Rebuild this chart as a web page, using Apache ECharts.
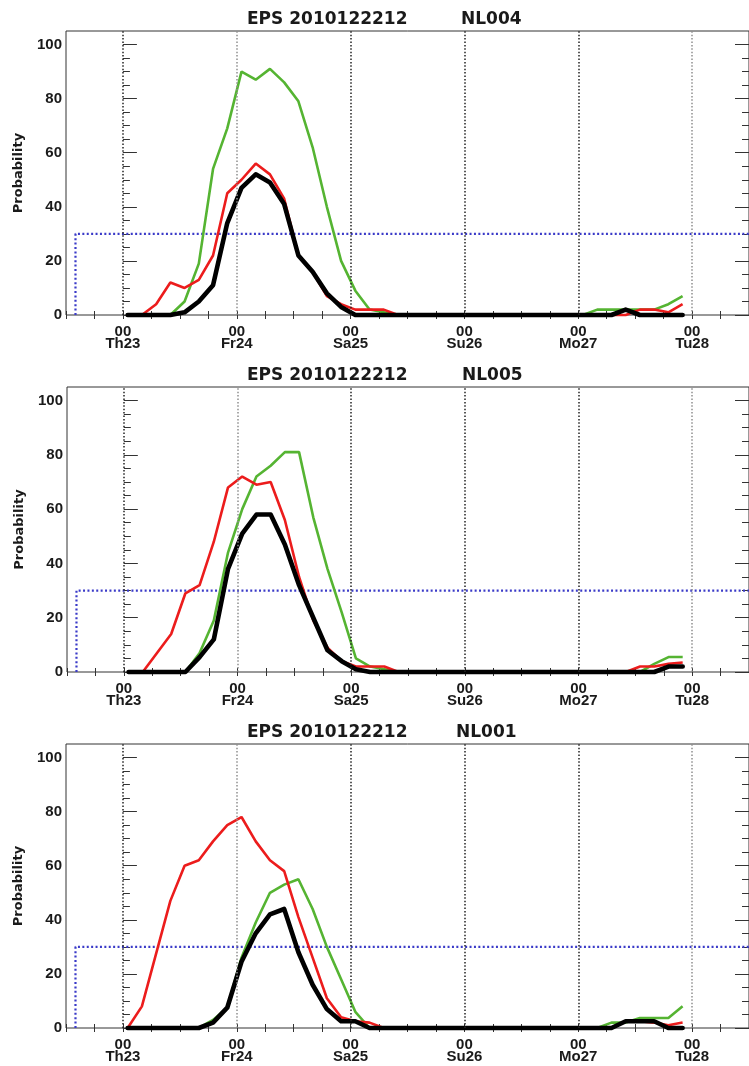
<!DOCTYPE html>
<html>
<head>
<meta charset="utf-8">
<script src="https://cdn.jsdelivr.net/npm/echarts@6/dist/echarts.min.js"></script>
<style>
  html, body { margin: 0; padding: 0; background: #fff; }
</style>
</head>
<body>
<div id="main" style="width: 749px; height: 1066px;"></div>
<script type="text/javascript">
// forecast hours after Th23 00 UTC
var hours = [1, 4, 7, 10, 13, 16, 19, 22, 25, 28, 31, 34, 37, 40, 43, 46, 49, 52, 55, 58,
             61, 64, 67, 70, 73, 76, 79, 82, 85, 88, 91, 94, 97, 100, 103, 106, 109, 112, 115, 118];

var dayHours = [0, 24, 48, 72, 96, 120];
var dayNames = ['Th23', 'Fr24', 'Sa25', 'Su26', 'Mo27', 'Tu28'];
var yLabels = [0, 20, 40, 60, 80, 100];
var yMinor = [0, 5, 10, 15, 20, 25, 30, 35, 40, 45, 50, 55, 60, 65, 70, 75, 80, 85, 90, 95, 100];
var xTicks = [-12, -6, 0, 6, 12, 18, 24, 30, 36, 42, 48, 54, 60, 66, 72, 78, 84, 90, 96, 102, 108, 114, 120, 126, 132];

// threshold marker (dotted blue)
var thresholdX = [-10, -10, 132];
var thresholdY = [0, 30, 30];

var runName = 'EPS 2010122212';
var stations = ['NL004', 'NL005', 'NL001'];

var nl004Green = [0, 0, 0, 0, 5, 19, 54, 69, 90, 87, 91, 86, 79, 62, 40, 20, 9, 2, 1, 0,
                  0, 0, 0, 0, 0, 0, 0, 0, 0, 0, 0, 0, 0, 2, 2, 2, 2, 2, 4, 7];
var nl004Red   = [0, 0, 4, 12, 10, 13, 22, 45, 50, 56, 52, 43, 22, 16, 7, 4, 2, 2, 2, 0,
                  0, 0, 0, 0, 0, 0, 0, 0, 0, 0, 0, 0, 0, 0, 0, 0, 2, 2, 1, 4];
var nl004Black = [0, 0, 0, 0, 1, 5, 11, 34, 47, 52, 49, 41, 22, 16, 8, 3, 0, 0, 0, 0,
                  0, 0, 0, 0, 0, 0, 0, 0, 0, 0, 0, 0, 0, 0, 0, 2, 0, 0, 0, 0];

var nl005Green = [0, 0, 0, 0, 0, 7, 19, 44, 60, 72, 76, 81, 81, 57, 38, 22, 5, 2, 1, 0,
                  0, 0, 0, 0, 0, 0, 0, 0, 0, 0, 0, 0, 0, 0, 0, 0, 0, 3, 5.5, 5.5];
var nl005Red   = [0, 0, 7, 14, 29, 32, 48, 68, 72, 69, 70, 56, 35, 19, 9, 4, 2, 2, 2, 0,
                  0, 0, 0, 0, 0, 0, 0, 0, 0, 0, 0, 0, 0, 0, 0, 0, 2, 2, 3, 3.5];
var nl005Black = [0, 0, 0, 0, 0, 5.5, 12, 38, 51, 58, 58, 47, 32, 20, 8, 4, 1, 0, 0, 0,
                  0, 0, 0, 0, 0, 0, 0, 0, 0, 0, 0, 0, 0, 0, 0, 0, 0, 0, 2, 2];

var nl001Green = [0, 0, 0, 0, 0, 0, 3, 7.5, 26, 39, 50, 53, 55, 44, 30, 18, 6, 0, 0, 0,
                  0, 0, 0, 0, 0, 0, 0, 0, 0, 0, 0, 0, 0, 0, 2, 2, 3.7, 3.7, 3.7, 8];
var nl001Red   = [0, 8, 27.5, 47, 60, 62, 69, 75, 78, 69, 62, 58, 41, 26, 11, 4, 2.5, 2, 0, 0,
                  0, 0, 0, 0, 0, 0, 0, 0, 0, 0, 0, 0, 0, 0, 0, 2.5, 2.5, 2, 1, 2];
var nl001Black = [0, 0, 0, 0, 0, 0, 2, 7.5, 24.5, 35, 42, 44, 28, 16, 7, 2.5, 2.5, 0, 0, 0,
                  0, 0, 0, 0, 0, 0, 0, 0, 0, 0, 0, 0, 0, 0, 0, 2.5, 2.5, 2.5, 0, 0];

var greens = [nl004Green, nl005Green, nl001Green];
var reds = [nl004Red, nl005Red, nl001Red];
var blacks = [nl004Black, nl005Black, nl001Black];

// panel boxes (the right edge runs past the window, as in the original plot)
var boxes = [
    { left: 66, top: 31, width: 690, height: 284, stationX: 461 },
    { left: 67, top: 387, width: 692, height: 285, stationX: 462 },
    { left: 66, top: 744, width: 686, height: 284, stationX: 456 }
];

var GREEN = '#55b432', RED = '#ec1c1c', BLUE = '#3a3ac8', INK = '#1a1a1a';

function pairs(vals) {
    return hours.map(function (h, i) { return [h, vals[i]]; });
}

var myChart = echarts.init(document.getElementById('main'), null, { renderer: 'canvas' });

var option = {
    backgroundColor: '#fff',
    animation: false,
    title: [],
    grid: [],
    xAxis: [],
    yAxis: [],
    series: []
};

boxes.forEach(function (b, i) {
    var titleFont = { fontFamily: 'DejaVu Sans', fontWeight: 'bold', fontSize: 17, color: INK };
    option.title.push({ text: runName, left: 247, top: b.top - 20, padding: 0, textStyle: titleFont });
    option.title.push({ text: stations[i], left: b.stationX, top: b.top - 20, padding: 0, textStyle: titleFont });

    option.grid.push({
        left: b.left, top: b.top, width: b.width, height: b.height,
        show: true, borderColor: '#333', borderWidth: 1, backgroundColor: 'transparent'
    });

    var tickStyle = { show: true, inside: true, length: 4, lineStyle: { color: '#333', width: 1 }, customValues: xTicks };
    option.xAxis.push({
        type: 'value', gridIndex: i, min: -12, max: 132, interval: 6,
        axisLine: { show: false },
        axisTick: tickStyle,
        splitLine: { show: false },
        axisLabel: {
            customValues: dayHours, margin: 11, lineHeight: 12,
            fontFamily: 'Liberation Sans', fontWeight: 'bold', fontSize: 15, color: INK,
            formatter: function (v) {
                var k = dayHours.indexOf(v);
                return k < 0 ? '' : '00\n' + dayNames[k];
            }
        }
    });
    option.xAxis.push({
        type: 'value', gridIndex: i, position: 'top', min: -12, max: 132, interval: 6,
        axisLine: { show: false },
        axisTick: tickStyle,
        splitLine: { show: false },
        axisLabel: { show: false }
    });

    function yAx(pos, tickVals, len, withLabel) {
        var ax = {
            type: 'value', gridIndex: i, position: pos, min: 0, max: 105,
            axisLine: { show: false },
            splitLine: { show: false },
            axisTick: { show: true, inside: true, length: len, customValues: tickVals, lineStyle: { color: '#333', width: 1 } },
            axisLabel: { show: false }
        };
        if (withLabel) {
            ax.axisLabel = {
                show: true, customValues: yLabels, margin: 4,
                fontFamily: 'Liberation Sans', fontWeight: 'bold', fontSize: 15, color: INK
            };
            ax.name = 'Probability';
            ax.nameLocation = 'middle';
            ax.nameGap = 41;
            ax.nameTextStyle = { fontFamily: 'DejaVu Sans', fontWeight: 'bold', fontSize: 13, color: INK };
        }
        return ax;
    }
    var y0 = option.yAxis.length;
    option.yAxis.push(yAx('left', yLabels, 14, true));
    option.yAxis.push(yAx('left', yMinor, 7, false));
    option.yAxis.push(yAx('right', yLabels, 14, false));
    option.yAxis.push(yAx('right', yMinor, 7, false));

    var xi = i * 2;
    option.series.push({
        type: 'line', xAxisIndex: xi, yAxisIndex: y0, silent: true,
        data: thresholdX.map(function (x, k) { return [x, thresholdY[k]]; }),
        symbol: 'none', clip: false,
        lineStyle: { color: BLUE, width: 2.2, type: [2, 2.4] },
        markLine: {
            silent: true, symbol: 'none', label: { show: false },
            data: dayHours.map(function (h, k) {
                var light = (k === 1 || k === 5);
                return {
                    xAxis: h,
                    lineStyle: { color: light ? '#8e8e8e' : '#222', width: 1.5, type: [1.5, 1.9] }
                };
            })
        }
    });
    option.series.push({
        type: 'line', xAxisIndex: xi, yAxisIndex: y0, silent: true,
        data: pairs(greens[i]), symbol: 'none', clip: false,
        lineStyle: { color: GREEN, width: 2.6 }
    });
    option.series.push({
        type: 'line', xAxisIndex: xi, yAxisIndex: y0, silent: true,
        data: pairs(reds[i]), symbol: 'none', clip: false,
        lineStyle: { color: RED, width: 2.6 }
    });
    option.series.push({
        type: 'line', xAxisIndex: xi, yAxisIndex: y0, silent: true,
        data: pairs(blacks[i]), symbol: 'none', clip: false,
        lineStyle: { color: '#000', width: 4.6, join: 'round', cap: 'round' }
    });
});

myChart.setOption(option);
</script>
</body>
</html>
